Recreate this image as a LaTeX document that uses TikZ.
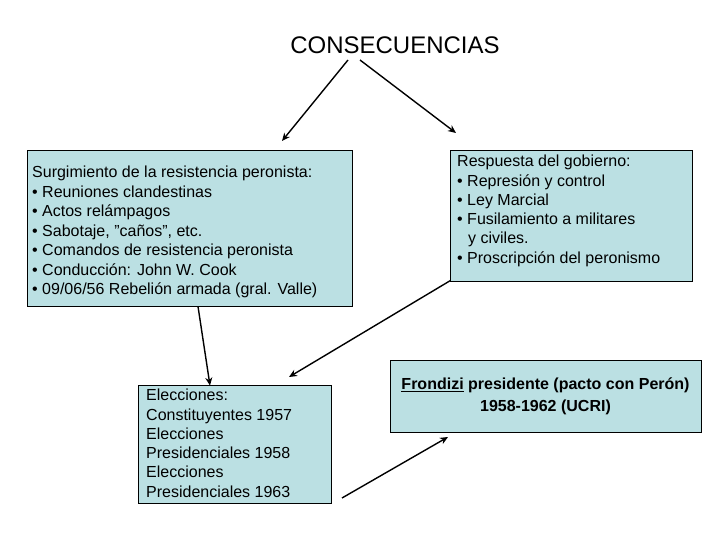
\documentclass[tikz,border=0pt]{standalone}
\usepackage{fontspec}
\setmainfont{Liberation Sans}
\usetikzlibrary{arrows.meta}
\definecolor{boxfill}{RGB}{187,224,227}
\tikzset{
  box/.style={draw=black, line width=0.9pt, fill=boxfill, inner sep=0pt},
  txt/.style={anchor=north west, align=left, inner sep=0pt, font=\fontsize{16}{19.3}\selectfont},
  arr/.style={draw=black, line width=1.4pt, -{Stealth[length=8pt,width=7pt]}}
}
\begin{document}
\begin{tikzpicture}[x=1pt,y=-1pt]
\useasboundingbox (0,0) rectangle (720,540);
% title
\node[inner sep=0pt, font=\fontsize{24}{28}\selectfont] (t) at (395,45) {CONSECUENCIAS};
% boxes
\node[box, minimum width=325pt, minimum height=156pt] (b1) at (189.5,228) {};
\node[box, minimum width=242pt, minimum height=131pt] (b2) at (571,215.5) {};
\node[box, minimum width=193pt, minimum height=118pt] (b3) at (234.5,444) {};
\node[box, minimum width=311pt, minimum height=72pt] (b4) at (545.5,396) {};
% texts
\node[txt, font=\fontsize{16}{19.5}\selectfont] (t1) at (32,166) {Surgimiento de la resistencia peronista:\\
• Reuniones clandestinas\\
• Actos relámpagos\\
• Sabotaje, "caños", etc.\\
• Comandos de resistencia peronista\\
• Conducción: John W. Cook\\
• 09/06/56 Rebelión armada (gral. Valle)};
\node[txt] (t2) at (457,155) {Respuesta del gobierno:\\
• Represión y control\\
• Ley Marcial\\
• Fusilamiento a militares\\
\hspace*{11pt}y civiles.\\
• Proscripción del peronismo};
\node[txt] (t3) at (146,389) {Elecciones:\\
Constituyentes 1957\\
Elecciones\\
Presidenciales 1958\\
Elecciones\\
Presidenciales 1963};
\node[align=center, inner sep=0pt, font=\fontsize{16}{22}\bfseries\selectfont] (t4) at (545.5,396) {\underline{Frondizi} presidente (pacto con Perón)\\1958-1962 (UCRI)};
% connector ends
\coordinate (s1) at (348,60);
\coordinate (e1) at (282,141);
\coordinate (s2) at (360,60);
\coordinate (e2) at (456,133);
\coordinate (e4) at (289,377);
\coordinate (s5) at (342,498);
\coordinate (e5) at (448,437);
% connectors
\draw[arr] ([xshift=8.5pt]b1.south) -- ([xshift=-24.5pt,yshift=-1pt]b3.north);
\draw[arr] (s1) -- (e1);
\draw[arr] (s2) -- (e2);
\draw[arr] ([xshift=1pt,yshift=1pt]b2.south west) -- (e4);
\draw[arr] (s5) -- (e5);
\end{tikzpicture}
\end{document}
